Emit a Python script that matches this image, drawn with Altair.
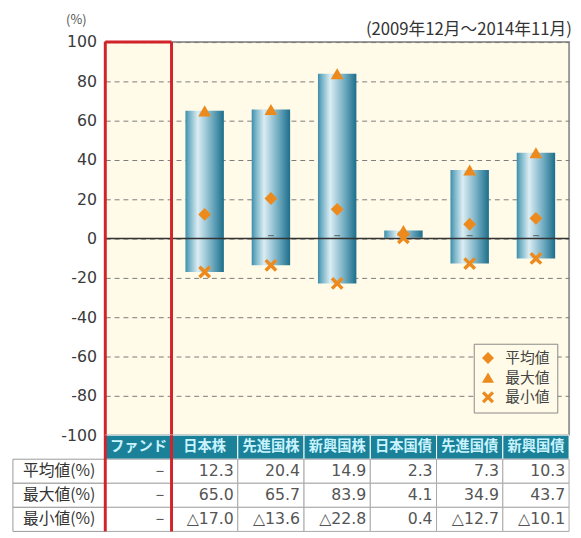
import altair as alt
import pandas as pd

# ---- data ----
categories = ["ファンド", "日本株", "先進国株", "新興国株", "日本国債", "先進国債", "新興国債"]
mean_vals = [None, 12.3, 20.4, 14.9, 2.3, 7.3, 10.3]
max_vals = [None, 65.0, 65.7, 83.9, 4.1, 34.9, 43.7]
min_vals = [None, -17.0, -13.6, -22.8, 0.4, -12.7, -10.1]
y_ticks = [-100, -80, -60, -40, -20, 0, 20, 40, 60, 80, 100]
zero_line = [0]
row_labels = ["平均値(%)", "最大値(%)", "最小値(%)"]
marker_labels = ["平均値", "最大値", "最小値"]
period_label = "(2009年12月～2014年11月)"
unit_label = "(%)"
fund_name = "ファンド"

# ---- style ----
CJK = "Noto Sans CJK JP"
NUMF = "DejaVu Sans"
ORANGE = "#ec8a1e"
RED = "#d2232a"
TEAL = "#1b8199"
CREAM = "#fffbe8"
X_PATH = ("M-1,-0.62L-0.62,-1L0,-0.38L0.62,-1L1,-0.62L0.38,0L1,0.62L0.62,1"
          "L0,0.38L-0.62,1L-1,0.62L-0.38,0Z")

PLOT_W, PLOT_H, LABEL_W, TABLE_H = 472, 400, 94, 98

bars_df = pd.DataFrame({"cat": categories, "mean": mean_vals,
                        "max": max_vals, "min": min_vals}).dropna()
tick_df = pd.DataFrame({"cat": categories[2:], "v": zero_line * len(categories[2:])})

pts = []
for c, a, b, d in zip(categories, mean_vals, max_vals, min_vals):
    if a is None:
        continue
    for t, v in zip(marker_labels, [a, b, d]):
        pts.append({"cat": c, "type": t, "value": v})
points_df = pd.DataFrame(pts)


def fmt(v):
    if v is None:
        return "－"
    return ("△" if v < 0 else "") + f"{abs(v):.1f}"


cells = []
for i, c in enumerate(categories):
    for r, series in zip(row_labels, [mean_vals, max_vals, min_vals]):
        cells.append({"cat": c, "row": r, "text": fmt(series[i])})
cells_df = pd.DataFrame(cells)
header_df = pd.DataFrame({"cat": categories, "row": ["header"] * len(categories)})
rowlab_df = pd.DataFrame({"row": row_labels})
fund_df = pd.DataFrame({"cat": [fund_name], "top": [y_ticks[-1]]})

x_scale = alt.Scale(domain=categories, paddingInner=0, paddingOuter=0)
y_scale = alt.Scale(domain=[y_ticks[0], y_ticks[-1]], nice=False, zero=False)
row_scale = alt.Scale(domain=["header"] + row_labels, paddingInner=0, paddingOuter=0)

y_axis = alt.Axis(values=y_ticks, grid=True, gridDash=[5, 4], gridColor="#7a7a7a",
                  ticks=False, domain=False, labelPadding=9, labelFont=NUMF,
                  labelFontSize=16, labelColor="#3a3a3a",
                  labelExpr="replace(datum.label, '\u2212', '-')",
                  title=unit_label, titleAngle=0, titleX=-30, titleY=-23,
                  titleFont=CJK, titleFontSize=13, titleFontWeight="normal",
                  titleColor="#555", titleAlign="center", titleBaseline="middle")

gradient = alt.LinearGradient(
    gradient="linear", x1=0, x2=1, y1=0, y2=0,
    stops=[alt.GradientStop(offset=0, color="#3b8eaa"),
           alt.GradientStop(offset=0.1, color="#74b1c6"),
           alt.GradientStop(offset=0.32, color="#dbedf3"),
           alt.GradientStop(offset=0.7, color="#6eaac0"),
           alt.GradientStop(offset=1, color="#1d6e8b")])

# ---- main plot ----
bars = alt.Chart(bars_df).mark_bar(color=gradient, width=alt.RelativeBandSize(0.58)).encode(
    x=alt.X("cat:N", scale=x_scale, sort=categories, axis=None),
    y=alt.Y("max:Q", scale=y_scale, axis=y_axis),
    y2="min:Q",
)

zero = alt.Chart(pd.DataFrame({"v": zero_line})).mark_rule(color="#333", strokeWidth=1.5).encode(
    y=alt.Y("v:Q", scale=y_scale, axis=y_axis))

bticks = alt.Chart(tick_df).mark_tick(orient="horizontal", size=6, thickness=1, color="#333",
                                      yOffset=-3).encode(
    x=alt.X("cat:N", scale=x_scale, bandPosition=0, axis=None),
    y=alt.Y("v:Q", scale=y_scale, axis=y_axis))

points = alt.Chart(points_df).mark_point(filled=True, size=170, color=ORANGE, opacity=1,
                                         strokeWidth=0).encode(
    x=alt.X("cat:N", scale=x_scale, axis=None),
    y=alt.Y("value:Q", scale=y_scale, axis=y_axis),
    shape=alt.Shape("type:N", scale=alt.Scale(domain=marker_labels,
                                              range=["diamond", "triangle-up", X_PATH]),
                    legend=alt.Legend(title=None, orient="none", legendX=469, legendY=307,
                                      padding=7, strokeColor="#888", fillColor=CREAM,
                                      labelFont=CJK, labelFontSize=15, labelColor="#444",
                                      symbolSize=150, symbolFillColor=ORANGE,
                                      symbolStrokeWidth=0, rowPadding=4, labelOffset=10)),
)

red_l = alt.Chart(fund_df).mark_rule(color=RED, strokeWidth=3).encode(
    x=alt.X("cat:N", scale=x_scale, bandPosition=0, axis=None))
red_r = alt.Chart(fund_df).mark_rule(color=RED, strokeWidth=3).encode(
    x=alt.X("cat:N", scale=x_scale, bandPosition=1, axis=None))
red_t = alt.Chart(fund_df).mark_rule(color=RED, strokeWidth=3).encode(
    x=alt.X("cat:N", scale=x_scale, bandPosition=0, axis=None),
    x2=alt.X2("cat", bandPosition=1),
    y=alt.Y("top:Q", scale=y_scale, axis=y_axis))

plot = alt.layer(bars, zero, bticks, points, red_l, red_r, red_t).properties(
    width=PLOT_W, height=PLOT_H,
    title=alt.TitleParams(period_label, anchor="end", font=CJK, fontSize=17,
                          fontWeight="normal", color="#333", offset=-26, dx=2),
    view=alt.ViewBackground(fill=CREAM, stroke="#9a9a9a", strokeWidth=2),
)

spacer = alt.Chart(pd.DataFrame({"v": zero_line})).mark_text(text="").properties(
    width=LABEL_W, height=PLOT_H, view=alt.ViewBackground(stroke=None, fill=None))

# ---- table ----
lab_cells = alt.Chart(rowlab_df).mark_rect(fill="white", stroke="#999", strokeWidth=1).encode(
    y=alt.Y("row:N", scale=row_scale, axis=None))
lab_text = alt.Chart(rowlab_df).mark_text(font=CJK, fontSize=16, color="#333").encode(
    y=alt.Y("row:N", scale=row_scale, axis=None), text="row:N")
labels_chart = alt.layer(lab_cells, lab_text).properties(
    width=LABEL_W, height=TABLE_H, view=alt.ViewBackground(stroke=None, fill=None))

head_rect = alt.Chart(header_df).mark_rect(fill=TEAL, stroke="white", strokeWidth=1).encode(
    x=alt.X("cat:N", scale=x_scale, axis=None),
    y=alt.Y("row:N", scale=row_scale, axis=None))
head_text = alt.Chart(header_df).mark_text(font=CJK, fontSize=14.5, fontWeight="bold",
                                           color="#c9f4ff").encode(
    x=alt.X("cat:N", scale=x_scale, axis=None),
    y=alt.Y("row:N", scale=row_scale, axis=None), text="cat:N")
val_rect = alt.Chart(cells_df).mark_rect(fill="white", stroke="#a8a8a8", strokeWidth=1).encode(
    x=alt.X("cat:N", scale=x_scale, axis=None),
    y=alt.Y("row:N", scale=row_scale, axis=None))
val_text = alt.Chart(cells_df).mark_text(font=NUMF, fontSize=16, color="#555", align="right",
                                         dx=-4).encode(
    x=alt.X("cat:N", scale=x_scale, bandPosition=1, axis=None),
    y=alt.Y("row:N", scale=row_scale, axis=None), text="text:N")
tred_l = alt.Chart(fund_df).mark_rule(color=RED, strokeWidth=3).encode(
    x=alt.X("cat:N", scale=x_scale, bandPosition=0, axis=None))
tred_r = alt.Chart(fund_df).mark_rule(color=RED, strokeWidth=3).encode(
    x=alt.X("cat:N", scale=x_scale, bandPosition=1, axis=None))
table_chart = alt.layer(head_rect, head_text, val_rect, val_text, tred_l, tred_r).properties(
    width=PLOT_W, height=TABLE_H, view=alt.ViewBackground(stroke=None, fill=None))

chart = alt.concat(spacer, plot, labels_chart, table_chart, columns=2).properties(
    spacing=0, bounds="flush",
    padding={"left": 4, "top": 0, "right": 0, "bottom": 0},
).configure_view(stroke=None)

chart.save("out.html", embed_options={"renderer": "svg", "actions": False})
